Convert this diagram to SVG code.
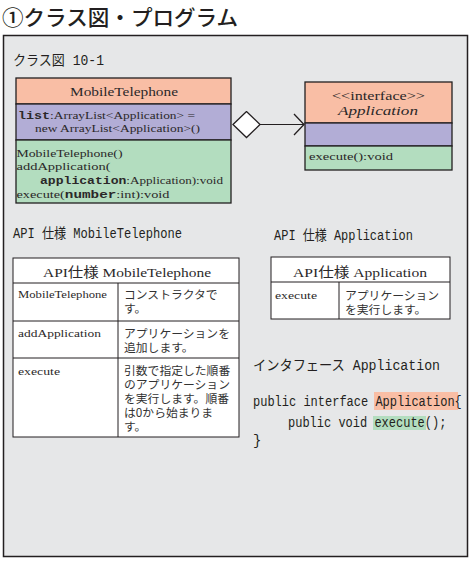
<svg xmlns="http://www.w3.org/2000/svg" width="474" height="562" viewBox="0 0 474 562">
<style>
.bx{stroke:#231f20;stroke-width:1.3}
.hd{fill:#f9bea5}
.at{fill:#b2add6}
.op{fill:#b3ddbf}
.ser{font-family:"Liberation Serif","Noto Sans CJK JP",serif;fill:#2b2829}
.mono{font-family:"Liberation Mono","Noto Sans CJK JP",monospace;fill:#231f20}
.jp{font-family:"Noto Sans CJK JP",sans-serif;fill:#333;font-size:11.8px}
.tb{fill:#fff;stroke:#231f20;stroke-width:1}
.ln{stroke:#231f20;stroke-width:1;fill:none}
</style>
<defs>
<marker id="dia" markerUnits="userSpaceOnUse" markerWidth="30" markerHeight="30" viewBox="0 0 30 30" refX="1" refY="14" orient="auto">
<path d="M1,14 L14.5,1 L28,14 L14.5,27 Z" fill="#fff" stroke="#231f20" stroke-width="1.3"/>
</marker>
<marker id="arr" markerUnits="userSpaceOnUse" markerWidth="14" markerHeight="24" viewBox="0 0 14 24" refX="11" refY="12" orient="auto">
<path d="M1,1.5 L11,12 L1,22.5" fill="none" stroke="#231f20" stroke-width="1.3"/>
</marker>
</defs>
<rect width="474" height="562" fill="#fff"/>
<text x="2" y="24.5" font-family="Noto Sans CJK JP,sans-serif" font-size="21" font-weight="500" fill="#231f20" textLength="236" lengthAdjust="spacingAndGlyphs">①クラス図・プログラム</text>
<rect x="3.5" y="35.5" width="464" height="521" fill="#e6e7e8" stroke="#231f20" stroke-width="1.5"/>
<text class="mono" x="13" y="65" font-size="14" textLength="91" lengthAdjust="spacingAndGlyphs">クラス図 10-1</text>

<g id="node-mobiletelephone">
<rect class="bx hd" x="16" y="78" width="215" height="26"/>
<rect class="bx at" x="16" y="104" width="215" height="36"/>
<rect class="bx op" x="16" y="140" width="215" height="63"/>
<text class="ser" x="70" y="96" font-size="13" textLength="108" lengthAdjust="spacingAndGlyphs">MobileTelephone</text>
<text class="ser" x="18" y="119" font-size="11" textLength="177" lengthAdjust="spacingAndGlyphs"><tspan font-weight="bold" font-family="Liberation Mono,monospace">list</tspan>:ArrayList&lt;Application&gt; =</text>
<text class="ser" x="35" y="132" font-size="11" textLength="165" lengthAdjust="spacingAndGlyphs">new ArrayList&lt;Application&gt;()</text>
<text class="ser" x="16.5" y="157" font-size="11" textLength="106" lengthAdjust="spacingAndGlyphs">MobileTelephone()</text>
<text class="ser" x="16.5" y="170" font-size="11" textLength="94" lengthAdjust="spacingAndGlyphs">addApplication(</text>
<text class="ser" x="40" y="184" font-size="11" textLength="183" lengthAdjust="spacingAndGlyphs"><tspan font-weight="bold" font-family="Liberation Mono,monospace">application</tspan>:Application):void</text>
<text class="ser" x="16.5" y="197.5" font-size="11" textLength="153" lengthAdjust="spacingAndGlyphs">execute(<tspan font-weight="bold" font-family="Liberation Mono,monospace">number</tspan>:int):void</text>
</g>

<g id="node-application">
<rect class="bx hd" x="305" y="82" width="147" height="41"/>
<rect class="bx at" x="305" y="123" width="147" height="23"/>
<rect class="bx op" x="305" y="146" width="147" height="24"/>
<text class="ser" x="332" y="100" font-size="13" textLength="93" lengthAdjust="spacingAndGlyphs">&lt;&lt;interface&gt;&gt;</text>
<text class="ser" x="338" y="115" font-size="13" font-style="italic" textLength="80" lengthAdjust="spacingAndGlyphs">Application</text>
<text class="ser" x="309" y="160" font-size="11" textLength="84" lengthAdjust="spacingAndGlyphs">execute():void</text>
</g>

<g id="connectors">
<path class="ln" d="M233,124.5 L304,124.5" stroke-width="1.3" marker-start="url(#dia)" marker-end="url(#arr)"/>
</g>

<g id="table-mobiletelephone">
<text class="mono" x="13" y="238" font-size="14" textLength="169" lengthAdjust="spacingAndGlyphs">API 仕様 MobileTelephone</text>
<rect class="tb" x="13" y="258" width="226" height="179"/>
<path class="ln" d="M13,283 H239 M13,321 H239 M13,358 H239 M118,283 V437"/>
<text class="ser" x="43" y="276.5" font-size="13.5" textLength="168" lengthAdjust="spacingAndGlyphs">API仕様 MobileTelephone</text>
<text class="ser" x="18" y="298" font-size="10.5" textLength="89" lengthAdjust="spacingAndGlyphs">MobileTelephone</text>
<text class="jp" x="124" y="298.5">コンストラクタで<tspan x="124" dy="14">す。</tspan></text>
<text class="ser" x="18" y="337" font-size="10.5" textLength="83" lengthAdjust="spacingAndGlyphs">addApplication</text>
<text class="jp" x="124" y="337.5">アプリケーションを<tspan x="124" dy="14.5">追加します。</tspan></text>
<text class="ser" x="18" y="375" font-size="10.5" textLength="42" lengthAdjust="spacingAndGlyphs">execute</text>
<text class="jp" x="124" y="375">引数で指定した順番<tspan x="124" dy="14">のアプリケーション</tspan><tspan x="124" dy="14">を実行します。順番</tspan><tspan x="124" dy="14">は0から始まりま</tspan><tspan x="124" dy="14">す。</tspan></text>
</g>

<g id="table-application">
<text class="mono" x="274" y="240" font-size="14" textLength="139" lengthAdjust="spacingAndGlyphs">API 仕様 Application</text>
<rect class="tb" x="271" y="257" width="179" height="62"/>
<path class="ln" d="M271,282 H450 M339,282 V319"/>
<text class="ser" x="293" y="276.5" font-size="13.5" textLength="134" lengthAdjust="spacingAndGlyphs">API仕様 Application</text>
<text class="ser" x="275" y="299" font-size="10.5" textLength="42" lengthAdjust="spacingAndGlyphs">execute</text>
<text class="jp" x="345" y="300">アプリケーション<tspan x="345" dy="14">を実行します。</tspan></text>
</g>

<g id="code">
<text class="mono" x="253" y="369.5" font-size="14" textLength="187" lengthAdjust="spacingAndGlyphs">インタフェース Application</text>
<rect x="374" y="392" width="84" height="18" fill="#f9bea5"/>
<rect x="373" y="416" width="53" height="14" fill="#b3ddbf"/>
<text class="mono" x="253" y="405.5" font-size="14" textLength="208.8" lengthAdjust="spacingAndGlyphs">public interface Application{</text>
<text class="mono" x="288" y="427" font-size="14" textLength="158.4" lengthAdjust="spacingAndGlyphs">public void execute();</text>
<text class="mono" x="253" y="445" font-size="14">}</text>
</g>
</svg>
